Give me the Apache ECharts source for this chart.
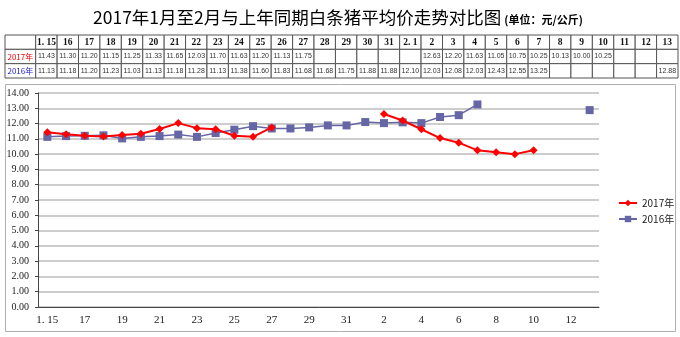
<!DOCTYPE html>
<html>
<head>
<meta charset="utf-8">
<script src="https://cdn.jsdelivr.net/npm/echarts@6/dist/echarts.min.js"></script>
<style>
html,body{margin:0;padding:0;background:#fff;}
#c{width:680px;height:337px;}
</style>
</head>
<body>
<div id="c"></div>
<script>
// ---------- data ----------
var categories = ['1.15','16','17','18','19','20','21','22','23','24','25','26','27','28','29','30','31','2.1','2','3','4','5','6','7','8','9','10','11','12','13'];
var headerLabels = ['1. 15','16','17','18','19','20','21','22','23','24','25','26','27','28','29','30','31','2. 1','2','3','4','5','6','7','8','9','10','11','12','13'];
var axisLabels = ['1. 15','16','17','18','19','20','21','22','23','24','25','26','27','28','29','30','31','2.1','2','3','4','5','6','7','8','9','10','11','12','13'];
var series2017 = [11.43,11.30,11.20,11.15,11.25,11.33,11.65,12.03,11.70,11.63,11.20,11.13,11.75,null,null,null,null,null,12.63,12.20,11.63,11.05,10.75,10.25,10.13,10.00,10.25,null,null,null];
var series2016 = [11.13,11.18,11.20,11.23,11.03,11.13,11.18,11.28,11.13,11.38,11.60,11.83,11.68,11.68,11.75,11.88,11.88,12.10,12.03,12.08,12.03,12.43,12.55,13.25,null,null,null,null,null,12.88];
var seriesNames = ['2017年','2016年'];
var yTicks = [0,1,2,3,4,5,6,7,8,9,10,11,12,13,14];

// ---------- table cells built from the arrays ----------
var LABEL_COL = 1.434;
var RED = '#ff0000', BLUE = '#6666a6';
var cells = [];
cells.push({x0:-LABEL_COL, x1:0, r:0, text:'', kind:'h'});
headerLabels.forEach(function(h,i){ cells.push({x0:i, x1:i+1, r:0, text:h, kind:'h'}); });
cells.push({x0:-LABEL_COL, x1:0, r:1, text:seriesNames[0], kind:'l', color:'#ff0000'});
series2017.forEach(function(v,i){ cells.push({x0:i, x1:i+1, r:1, text:v==null?'':v.toFixed(2), kind:'v'}); });
cells.push({x0:-LABEL_COL, x1:0, r:2, text:seriesNames[1], kind:'l', color:'#2222cc'});
series2016.forEach(function(v,i){ cells.push({x0:i, x1:i+1, r:2, text:v==null?'':v.toFixed(2), kind:'v'}); });

var chart = echarts.init(document.getElementById('c'));
chart.setOption({
  backgroundColor:'#fff',
  animation:false,
  title:{
    left:88, top:4,
    text:'{a|2017年1月至2月与上年同期白条猪平均价走势对比图}{b|(单位：元/公斤)}',
    textStyle:{rich:{
      a:{fontSize:17.5, fontFamily:'Noto Sans CJK SC', color:'#000', fontWeight:'normal'},
      b:{fontSize:11, fontFamily:'Noto Sans CJK SC', color:'#000', padding:[4,0,0,3]}
    }}
  },
  graphic:[{
    type:'rect', z:-1, silent:true,
    shape:{x:5.5, y:84.5, width:670, height:247},
    style:{fill:'#fff', stroke:'#b0b0b0', lineWidth:1}
  }],
  legend:{
    orient:'vertical', left:613, top:193,
    itemWidth:18, itemHeight:8, itemGap:6,
    textStyle:{fontSize:10, fontFamily:'Noto Sans CJK SC', color:'#222'},
    data:seriesNames
  },
  grid:[
    {left:38, top:93, width:561, height:214},
    {left:5, top:35, width:673, height:43}
  ],
  xAxis:[
    {type:'category', gridIndex:0, data:axisLabels, boundaryGap:true,
     axisLine:{lineStyle:{color:'#444', width:1}},
     axisTick:{interval:0, length:4, lineStyle:{color:'#444'}},
     axisLabel:{interval:1, fontSize:11, fontFamily:'Liberation Serif', color:'#222', margin:8}},
    {type:'value', gridIndex:1, min:-LABEL_COL, max:30, show:false}
  ],
  yAxis:[
    {type:'value', gridIndex:0, min:yTicks[0], max:yTicks[yTicks.length-1], interval:1,
     axisLine:{show:true, lineStyle:{color:'#444', width:1}},
     axisTick:{show:true, length:3, lineStyle:{color:'#444'}},
     splitLine:{lineStyle:{color:'#bdbdbd', width:1.5}},
     axisLabel:{fontSize:10, fontFamily:'Liberation Serif', color:'#222', margin:9,
       formatter:function(v){return v.toFixed(2);}}},
    {type:'value', gridIndex:1, min:0, max:3, inverse:true, show:false}
  ],
  series:[
    {name:seriesNames[0], type:'line', xAxisIndex:0, yAxisIndex:0, data:series2017,
     connectNulls:false, symbol:'diamond', symbolSize:8, color:RED,
     lineStyle:{width:2, color:RED}, itemStyle:{color:RED}, z:3},
    {name:seriesNames[1], type:'line', xAxisIndex:0, yAxisIndex:0, data:series2016,
     connectNulls:false, symbol:'rect', symbolSize:8, color:BLUE,
     lineStyle:{width:1.5, color:BLUE}, itemStyle:{color:BLUE}, z:2},
    {type:'custom', xAxisIndex:1, yAxisIndex:1, silent:true,
     data:cells.map(function(c){return [c.x0, c.x1, c.r];}),
     renderItem:function(params, api){
       var c = cells[params.dataIndex];
       var p0 = api.coord([api.value(0), api.value(2)]);
       var p1 = api.coord([api.value(1), api.value(2)+1]);
       var font, color = '#111';
       if (c.kind==='h'){ font = 'bold 9.5px "Liberation Serif"'; }
       else if (c.kind==='l'){ font = '8px "Noto Sans CJK SC"'; color = c.color; }
       else { font = '7px "Liberation Sans"'; color='#333'; }
       return {type:'group', children:[
         {type:'rect', shape:{x:p0[0], y:p0[1], width:p1[0]-p0[0], height:p1[1]-p0[1]},
          style:{fill:'#fff', stroke:'#555', lineWidth:1}},
         {type:'text', style:{text:c.text, x:(p0[0]+p1[0])/2, y:(p0[1]+p1[1])/2,
          align:'center', verticalAlign:'middle', font:font, fill:color}}
       ]};
     }}
  ]
});
</script>
</body>
</html>
